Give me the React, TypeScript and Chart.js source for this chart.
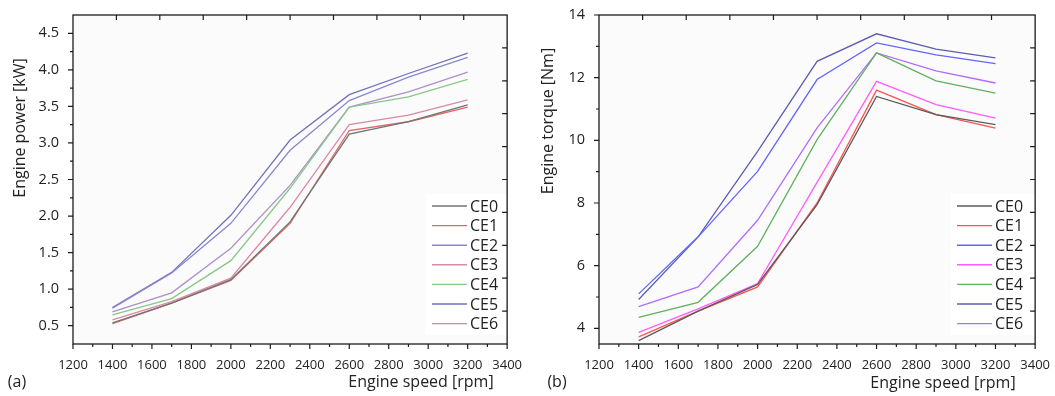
import React, { useEffect, useRef } from 'react';
import { Chart, registerables } from 'chart.js';

Chart.register(...registerables);

// ---------------- data ----------------
const speeds = [1400, 1700, 2000, 2300, 2600, 2900, 3200];
const seriesLabels = ['CE0', 'CE1', 'CE2', 'CE3', 'CE4', 'CE5', 'CE6'];

const powerCE0 = [0.54, 0.81, 1.13, 1.92, 3.12, 3.29, 3.52];
const powerCE1 = [0.53, 0.81, 1.12, 1.9, 3.17, 3.29, 3.49];
const powerCE2 = [0.74, 1.22, 1.9, 2.9, 3.58, 3.9, 4.17];
const powerCE3 = [0.58, 0.83, 1.15, 2.12, 3.25, 3.38, 3.59];
const powerCE4 = [0.65, 0.87, 1.39, 2.38, 3.49, 3.63, 3.87];
const powerCE5 = [0.75, 1.23, 2.01, 3.04, 3.66, 3.95, 4.23];
const powerCE6 = [0.69, 0.95, 1.56, 2.42, 3.49, 3.7, 3.97];

const torqueCE0 = [3.61, 4.55, 5.4, 7.95, 11.4, 10.82, 10.5];
const torqueCE1 = [3.73, 4.55, 5.32, 8.0, 11.6, 10.82, 10.39];
const torqueCE2 = [5.1, 6.92, 9.01, 11.94, 13.11, 12.73, 12.45];
const torqueCE3 = [3.87, 4.62, 5.43, 8.66, 11.88, 11.14, 10.71];
const torqueCE4 = [4.35, 4.83, 6.62, 10.02, 12.79, 11.9, 11.51];
const torqueCE5 = [4.92, 6.92, 9.65, 12.52, 13.4, 12.91, 12.63];
const torqueCE6 = [4.69, 5.32, 7.45, 10.4, 12.79, 12.22, 11.83];

const speedTicks = [1200, 1400, 1600, 1800, 2000, 2200, 2400, 2600, 2800, 3000, 3200, 3400];
const powerTicks = [0.5, 1.0, 1.5, 2.0, 2.5, 3.0, 3.5, 4.0, 4.5];
const torqueTicks = [4, 6, 8, 10, 12, 14];

const powerColors = ['#707670', '#e26464', '#8a88cc', '#da88a8', '#88c888', '#7272ba', '#ac90cc'];
const torqueColors = ['#5a5a5a', '#ff5252', '#6464ff', '#ff5cff', '#62b062', '#5e5eae', '#b06cff'];

const powerSeries = [powerCE0, powerCE1, powerCE2, powerCE3, powerCE4, powerCE5, powerCE6];
const torqueSeries = [torqueCE0, torqueCE1, torqueCE2, torqueCE3, torqueCE4, torqueCE5, torqueCE6];

const FONT = '"Open Sans", "Noto Sans", sans-serif';

type Panel = {
  series: number[][];
  colors: string[];
  yMin: number;
  yMax: number;
  yTicks: number[];
  yDecimals: number;
  yTitle: string;
  yTitleX: number;
  yTitleY: number;
  xTitleX: number;
  xTitleY: number;
  tag: string;
  tagX: number;
  tagY: number;
  legendX: number;
  legendY: number;
  areaLeft: number;
  padRight: number;
};

function framePlugin(p: Panel) {
  return {
    id: 'frame',
    beforeDraw(chart: any) {
      const { ctx, chartArea: a } = chart;
      ctx.save();
      ctx.fillStyle = '#fbfbfb';
      ctx.fillRect(a.left, a.top, a.right - a.left, a.bottom - a.top);
      ctx.restore();
    },
    afterDatasetsDraw(chart: any) {
      const { ctx } = chart;
      ctx.save();
      ctx.fillStyle = '#ffffff';
      ctx.fillRect(p.legendX - 6, p.legendY - 12, 84, 141);
      ctx.font = '16px ' + FONT;
      ctx.textBaseline = 'middle';
      ctx.textAlign = 'left';
      seriesLabels.forEach((lab, i) => {
        const y = p.legendY + i * 19.6;
        ctx.strokeStyle = p.colors[i];
        ctx.lineWidth = 1.4;
        ctx.beginPath();
        ctx.moveTo(p.legendX, y);
        ctx.lineTo(p.legendX + 35, y);
        ctx.stroke();
        ctx.fillStyle = '#222';
        ctx.fillText(lab, p.legendX + 38, y + 1);
      });
      ctx.restore();
    },
    afterDraw(chart: any) {
      const { ctx, chartArea: a } = chart;
      const xs = chart.scales.x;
      const ys = chart.scales.y;
      const w = a.right - a.left;
      const h = a.bottom - a.top;
      ctx.save();
      ctx.strokeStyle = '#1c1c1c';
      ctx.lineWidth = 1.2;
      ctx.beginPath();
      speedTicks.forEach((v) => {
        const x = xs.getPixelForValue(v);
        ctx.moveTo(x, a.bottom);
        ctx.lineTo(x, a.bottom + 5);
      });
      for (let i = 0; i < speedTicks.length - 1; i++) {
        const x = xs.getPixelForValue((speedTicks[i] + speedTicks[i + 1]) / 2);
        ctx.moveTo(x, a.bottom);
        ctx.lineTo(x, a.bottom + 3);
      }
      p.yTicks.forEach((v) => {
        const y = ys.getPixelForValue(v);
        ctx.moveTo(a.left - 5, y);
        ctx.lineTo(a.left, y);
      });
      for (let i = 0; i < p.yTicks.length - 1; i++) {
        const y = ys.getPixelForValue((p.yTicks[i] + p.yTicks[i + 1]) / 2);
        ctx.moveTo(a.left - 3, y);
        ctx.lineTo(a.left, y);
      }
      for (let i = 1; i < 10; i++) {
        const x = a.left + (i * w) / 10;
        ctx.moveTo(x, a.top);
        ctx.lineTo(x, a.top + 5);
        const y = a.top + (i * h) / 10;
        ctx.moveTo(a.right, y);
        ctx.lineTo(a.right - 5, y);
      }
      ctx.stroke();
      ctx.lineWidth = 1.3;
      ctx.strokeRect(a.left, a.top, w, h);

      ctx.fillStyle = '#222';
      ctx.font = '16px ' + FONT;
      ctx.textAlign = 'center';
      ctx.textBaseline = 'middle';
      ctx.fillText('Engine speed [rpm]', p.xTitleX, p.xTitleY);
      ctx.fillText(p.tag, p.tagX, p.tagY);
      ctx.translate(p.yTitleX, p.yTitleY);
      ctx.rotate(-Math.PI / 2);
      ctx.fillText(p.yTitle, 0, 0);
      ctx.restore();
    },
  };
}

function ChartPanel({ p, width }: { p: Panel; width: number }) {
  const ref = useRef<HTMLCanvasElement | null>(null);
  useEffect(() => {
    if (!ref.current) return;
    const chart = new Chart(ref.current, {
      type: 'line',
      data: {
        datasets: seriesLabels.map((lab, i) => ({
          label: lab,
          data: speeds.map((s, j) => ({ x: s, y: p.series[i][j] })),
          borderColor: p.colors[i],
          backgroundColor: p.colors[i],
          borderWidth: 1.3,
          pointRadius: 0,
          tension: 0,
          fill: false,
        })),
      },
      options: {
        responsive: false,
        animation: false,
        layout: { padding: { left: 0, top: 15, right: p.padRight, bottom: 0 } },
        plugins: { legend: { display: false }, tooltip: { enabled: false }, title: { display: false } },
        scales: {
          x: {
            type: 'linear',
            min: 1200,
            max: 3400,
            grid: { display: false },
            border: { display: false },
            afterBuildTicks: (s: any) => {
              s.ticks = speedTicks.map((v) => ({ value: v }));
            },
            afterFit: (s: any) => {
              s.height = 52;
            },
            ticks: {
              padding: 5,
              color: '#222',
              maxRotation: 0,
              autoSkip: false,
              font: { family: FONT, size: 13 },
              callback: (v: any) => String(v),
            },
          },
          y: {
            type: 'linear',
            min: p.yMin,
            max: p.yMax,
            grid: { display: false },
            border: { display: false },
            afterBuildTicks: (s: any) => {
              s.ticks = p.yTicks.map((v) => ({ value: v }));
            },
            afterFit: (s: any) => {
              s.width = p.areaLeft;
            },
            ticks: {
              padding: 6,
              color: '#222',
              autoSkip: false,
              font: { family: FONT, size: 14.5 },
              callback: (v: any) => Number(v).toFixed(p.yDecimals),
            },
          },
        },
      },
      plugins: [framePlugin(p)],
    } as any);
    return () => chart.destroy();
  }, []);
  return <canvas ref={ref} width={width} height={396} style={{ width, height: 396, display: 'block' }} />;
}

const panelA: Panel = {
  series: powerSeries,
  colors: powerColors,
  yMin: 0.25,
  yMax: 4.75,
  yTicks: powerTicks,
  yDecimals: 1,
  yTitle: 'Engine power [kW]',
  yTitleX: 20,
  yTitleY: 128,
  xTitleX: 421,
  xTitleY: 382,
  tag: '(a)',
  tagX: 17,
  tagY: 382,
  legendX: 432,
  legendY: 206,
  areaLeft: 73,
  padRight: 10,
};

const panelB: Panel = {
  series: torqueSeries,
  colors: torqueColors,
  yMin: 3.5,
  yMax: 14,
  yTicks: torqueTicks,
  yDecimals: 0,
  yTitle: 'Engine torque [Nm]',
  yTitleX: 21,
  yTitleY: 121,
  xTitleX: 416,
  xTitleY: 383,
  tag: '(b)',
  tagX: 30,
  tagY: 382,
  legendX: 430,
  legendY: 206,
  areaLeft: 72,
  padRight: 14,
};

export default function App() {
  return (
    <div style={{ position: 'fixed', left: 0, top: 0, width: 1055, height: 396, background: '#fff', display: 'flex' }}>
      <ChartPanel p={panelA} width={527} />
      <ChartPanel p={panelB} width={528} />
    </div>
  );
}
